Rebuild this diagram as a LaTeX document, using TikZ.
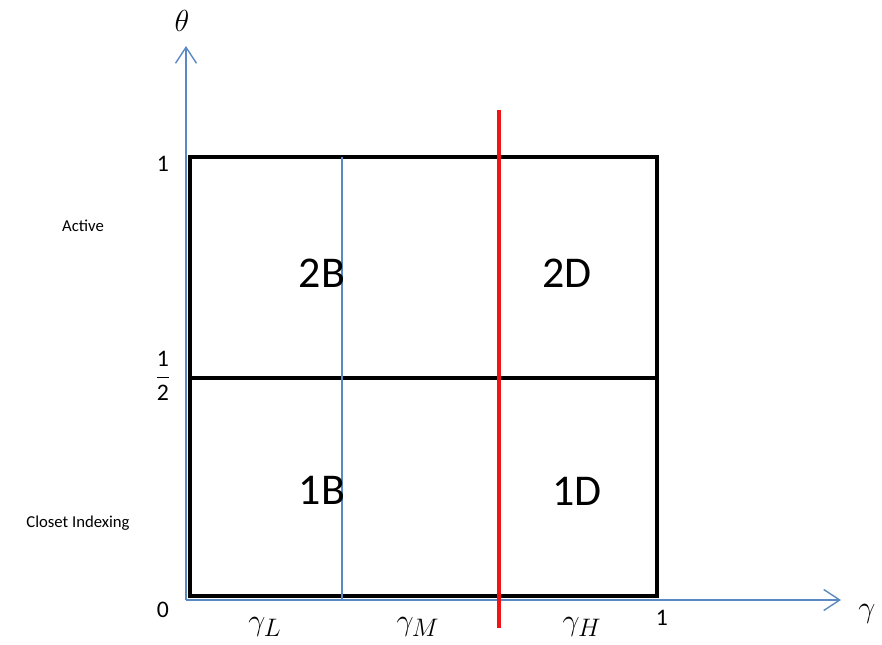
\documentclass[tikz,border=0pt]{standalone}
\usepackage{amsmath}
\usepackage{fontspec}
\setmainfont{Carlito}
\usetikzlibrary{arrows.meta,positioning}
\definecolor{AxisBlue}{RGB}{91,137,196}
\definecolor{CutRed}{RGB}{240,20,20}

\begin{document}
\begin{tikzpicture}[x=0.02cm,y=-0.02cm,
  axis/.style={draw=AxisBlue,line width=0.8pt,-{Straight Barb[length=3.2mm,width=4.2mm,line width=0.8pt]}},
  frame/.style={draw=black,line width=2.3pt},
  region/.style={font=\fontsize{25}{29}\selectfont},
  tick/.style={font=\fontsize{13.5}{15}\selectfont},
  side/.style={font=\fontsize{9.5}{11}\selectfont},
  sym/.style={font=\fontsize{19}{21}\selectfont}
]
  \useasboundingbox (0,0) rectangle (882,645);
  % axes
  \coordinate (o) at (186,600);
  \coordinate (ytop) at (186,46);
  \coordinate (xend) at (841,600);
  \draw[axis] (o)--(ytop);
  \draw[axis] (o)--(xend);
  % frame and divisions
  \coordinate (bl) at (190,596);
  \coordinate (tr) at (657,157);
  \draw[frame] (bl) rectangle (tr);
  \draw[frame] (190,378)--(657,378);
  \draw[draw=AxisBlue,line width=0.8pt] (342,157)--(342,600);
  \draw[draw=CutRed,line width=2.8pt] (499,110)--(499,628);
  % cells
  \node[region] (c2b) at (322,273) {2B};
  \node[region] (c2d) at (567,273) {2D};
  \node[region] (c1b) at (322,490) {1B};
  \node[region] (c1d) at (577,491) {1D};
  % ticks
  \node[tick] (t1) at (163,164) {1};
  \node[tick] (th) at (163,376) {$\dfrac{\text{1}}{\text{2}}$};
  \node[tick] (t0) at (163,610) {0};
  \node[tick] (x1) at (662,618) {1};
  \node[side] (act) at (83,226) {Active};
  \node[side] (ci) at (78,523) {Closet Indexing};
  % symbols
  \node[sym] (theta) at (182,21) {$\theta$};
  \node[sym] (gam) at (867,614) {$\gamma$};
  \node[sym] (gl) at (265,627) {$\gamma_L$};
  \node[sym] (gm) at (418,627) {$\gamma_M$};
  \node[sym] (gh) at (582,627) {$\gamma_H$};
\end{tikzpicture}
\end{document}
